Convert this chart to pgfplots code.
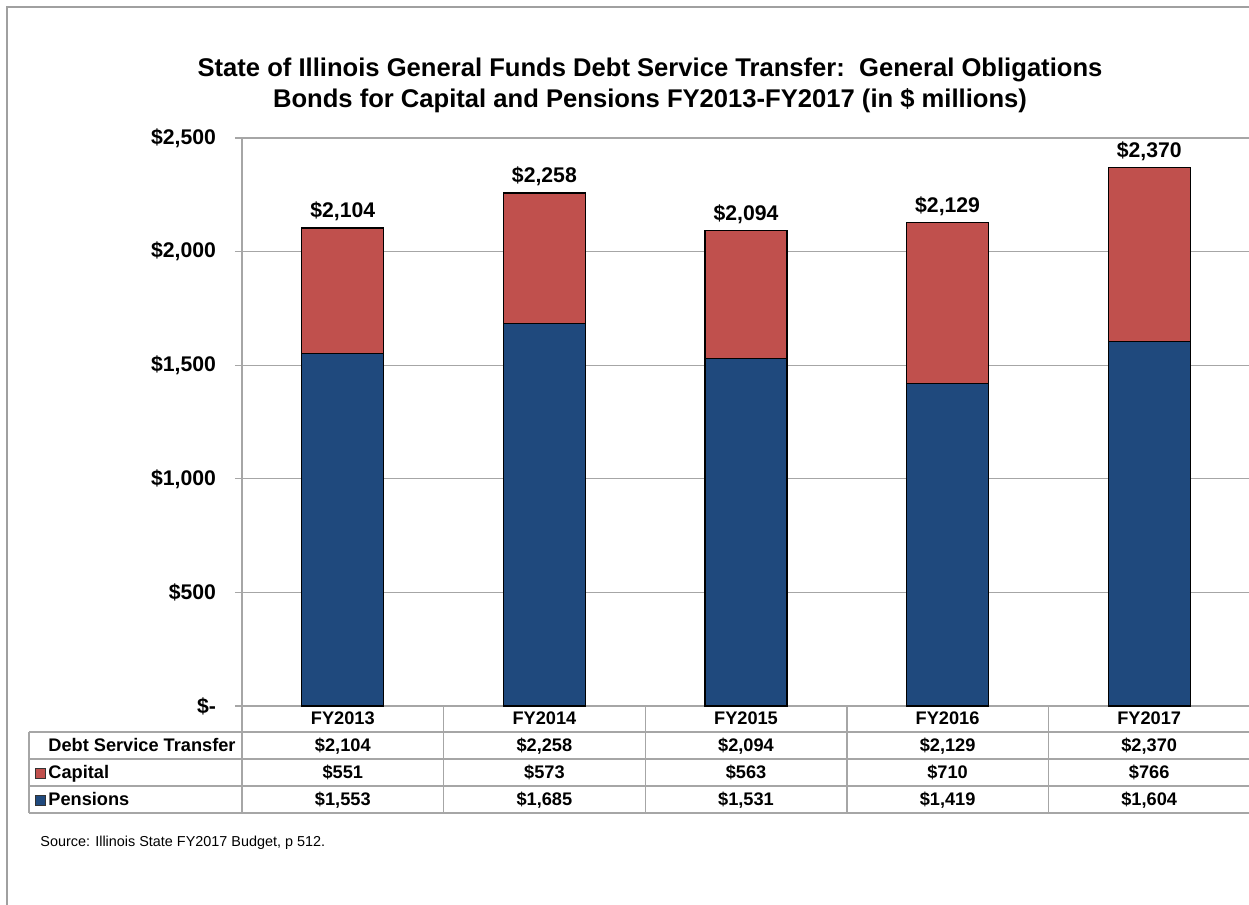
\documentclass[border=0pt]{standalone}
\usepackage{pgfplots}
\pgfplotsset{compat=1.18}
\usepackage{pgfplotstable}
\usepackage{fontspec}
\setmainfont{Liberation Sans}
\definecolor{pens}{HTML}{1F497D}
\definecolor{capc}{HTML}{C0504D}
\definecolor{gridc}{HTML}{A6A6A6}
\definecolor{framec}{HTML}{A0A0A0}

\pgfplotstableread{
x pens cap total
0 1553 551 2104
1 1685 573 2258
2 1531 563 2094
3 1419 710 2129
4 1604 766 2370
}\datatable

\begin{document}
\begin{tikzpicture}[x=0.5pt,y=0.5pt]
\useasboundingbox (0,0) rectangle (1249,905);
\draw[framec, line width=0.6pt] (7,0) -- (7,898) -- (1249,898);

\node[align=center, font=\bfseries\fontsize{12.8}{15.5}\selectfont] at (650,820)
  {State of Illinois General Funds Debt Service Transfer:\ \ General Obligations\\
   Bonds for Capital and Pensions FY2013-FY2017 (in \$ millions)};

\begin{axis}[
  at={(121pt,99.5pt)}, anchor=south west,
  width=504pt, height=284pt, scale only axis,
  xmin=-0.5, xmax=4.5, ymin=0, ymax=2500,
  ybar, bar width=0.407,
  ytick={0,500,1000,1500,2000,2500},
  yticklabels={\$-,\$500,{\$1,000},{\$1,500},{\$2,000},{\$2,500}},
  xtick=\empty,
  axis x line*=bottom, axis y line*=left,
  axis line style={draw=gridc, line width=0.7pt, -},
  ymajorgrids, grid style={draw=gridc, line width=0.6pt},
  tick align=outside, major tick length=3.5pt,
  tick style={draw=gridc, line width=0.6pt},
  yticklabel style={font=\bfseries\fontsize{10.6}{12}\selectfont, xshift=-6pt},
  clip=false,
]
% total (= pensions + capital) drawn in capital colour; pensions drawn over it
\addplot[fill=capc, draw=black, line width=0.6pt, bar shift=0pt,
  point meta=explicit,
  nodes near coords={\$\pgfmathprintnumber[assume math mode=true, fixed, precision=0, 1000 sep={,}]{\pgfplotspointmeta}},
  every node near coord/.append style={font=\bfseries\fontsize{10.6}{12}\selectfont, anchor=base, yshift=5pt, text=black}
  ] table[x=x, y=total, meta=total] {\datatable};
\addplot[fill=pens, draw=black, line width=0.6pt, bar shift=0pt] table[x=x, y=pens] {\datatable};
\end{axis}

% table
\draw[gridc, line width=0.7pt] (242,199) -- (242,92);
\foreach \yy in {173,146,119,92} \draw[gridc, line width=0.7pt] (29,\yy) -- (1249,\yy);
\draw[gridc, line width=0.7pt] (29,173) -- (29,92);
\foreach \xx in {443.6,645.2,846.8,1048.4} \draw[gridc, line width=0.7pt] (\xx,199) -- (\xx,92);

\begin{scope}[every node/.style={font=\bfseries\fontsize{9.1}{11}\selectfont}]
\foreach \c/\lab in {342.8/FY2013,544.4/FY2014,746/FY2015,947.6/FY2016,1149.2/FY2017}
  \node[anchor=base] at (\c,180) {\lab};
\node[anchor=base west, inner sep=0] at (48,153) {Debt Service Transfer};
\node[anchor=base west, inner sep=0] at (48,126) {Capital};
\node[anchor=base west, inner sep=0] at (48,99) {Pensions};
\foreach \c/\a/\b/\d in {342.8/{2,104}/551/{1,553},544.4/{2,258}/573/{1,685},746/{2,094}/563/{1,531},947.6/{2,129}/710/{1,419},1149.2/{2,370}/766/{1,604}}{
  \node[anchor=base] at (\c,153) {\$\a};
  \node[anchor=base] at (\c,126) {\$\b};
  \node[anchor=base] at (\c,99) {\$\d};
}
\end{scope}
\draw[fill=capc, draw=black!80, line width=0.4pt] (35,127) rectangle (45,137);
\draw[fill=pens, draw=black!80, line width=0.4pt] (35,100) rectangle (45,110);

\node[anchor=west, inner sep=0, font=\fontsize{7.2}{8}\selectfont] at (40,62) {Source: Illinois State FY2017 Budget, p 512.};
\end{tikzpicture}
\end{document}
